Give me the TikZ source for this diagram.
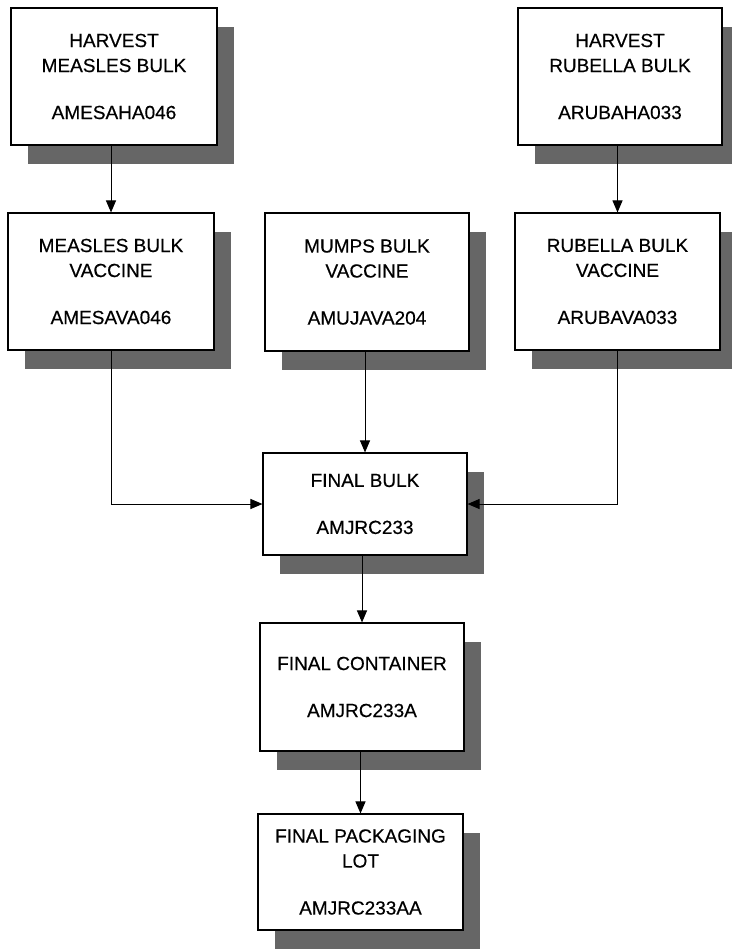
\documentclass[tikz,border=0pt]{standalone}
\usepackage{fontspec}
\setmainfont{Liberation Sans}
\newfontfamily\boxfont{Liberation Sans}[FakeBold=0.4]
\usetikzlibrary{arrows.meta,shadows}
\tikzset{
  box/.style={draw, line width=1.1pt, fill=white, inner sep=0pt, align=center,
    font=\boxfont\fontsize{19}{25}\selectfont,
    drop shadow={shadow xshift=17pt, shadow yshift=-19pt, fill=black!60, opacity=1}},
  conn/.style={line width=1pt, -{Triangle[length=12pt,width=10pt]}}
}
\begin{document}
\begin{tikzpicture}[x=1pt,y=-1pt]
\useasboundingbox (0,0) rectangle (731,949);
\node[box, minimum width=206pt, minimum height=137pt] (h1) at (114,76.5) {HARVEST\\MEASLES BULK\\[22pt]AMESAHA046};
\node[box, minimum width=204pt, minimum height=137pt] (hr) at (620,76.5) {HARVEST\\RUBELLA BULK\\[22pt]ARUBAHA033};
\node[box, minimum width=206pt, minimum height=137pt] (m1) at (111,281.5) {MEASLES BULK\\VACCINE\\[22pt]AMESAVA046};
\node[box, minimum width=204pt, minimum height=138pt] (mu) at (367,282) {MUMPS BULK\\VACCINE\\[22pt]AMUJAVA204};
\node[box, minimum width=205pt, minimum height=137pt] (rv) at (617.5,281.5) {RUBELLA BULK\\VACCINE\\[22pt]ARUBAVA033};
\node[box, minimum width=204pt, minimum height=102pt] (fb) at (365,504) {FINAL BULK\\[22pt]AMJRC233};
\node[box, minimum width=204pt, minimum height=128pt] (fc) at (362,687) {FINAL CONTAINER\\[22pt]AMJRC233A};
\node[box, minimum width=205pt, minimum height=116pt] (fp) at (360.5,872) {FINAL PACKAGING\\LOT\\[22pt]AMJRC233AA};
\draw[conn] (h1.south -| m1.south) -- (m1.north);
\draw[conn] (hr.south -| rv.south) -- (rv.north);
\draw[conn] (mu.south -| fb.north) -- (fb.north);
\draw[conn] (m1.south) |- (fb.west);
\draw[conn] (rv.south) |- (fb.east);
\draw[conn] (fb.south -| fc.north) -- (fc.north);
\draw[conn] (fc.south -| fp.north) -- (fp.north);
\end{tikzpicture}
\end{document}
